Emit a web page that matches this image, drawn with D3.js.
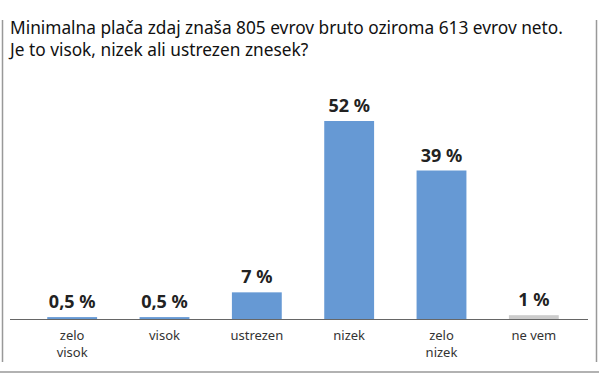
<!DOCTYPE html>
<html>
<head>
<meta charset="utf-8">
<script src="https://cdn.jsdelivr.net/npm/d3@7"></script>
<style>
    body { margin: 0; background: #fff; }
    text { font-family: "Noto Sans", sans-serif; }
</style>
</head>
<body>
<svg id="chart" width="599" height="374"></svg>
<script>
const categories = ["zelo visok", "visok", "ustrezen", "nizek", "zelo nizek", "ne vem"];
const values = [0.5, 0.5, 7, 52, 39, 1];
const valueLabels = ["0,5 %", "0,5 %", "7 %", "52 %", "39 %", "1 %"];
const titleLines = [
    "Minimalna plača zdaj znaša 805 evrov bruto oziroma 613 evrov neto.",
    "Je to visok, nizek ali ustrezen znesek?"
];

const svg = d3.select("#chart");
const baseY = 319;

// frame
svg.append("line").attr("x1", 2.5).attr("x2", 2.5).attr("y1", 20).attr("y2", 362)
    .attr("stroke", "#999").attr("stroke-width", 1.5);
svg.append("line").attr("x1", 596.5).attr("x2", 596.5).attr("y1", 20).attr("y2", 362)
    .attr("stroke", "#999").attr("stroke-width", 1.5);
svg.append("line").attr("x1", 0).attr("x2", 599).attr("y1", 372).attr("y2", 372)
    .attr("stroke", "#999").attr("stroke-width", 1.5);

svg.selectAll("text.title")
    .data(titleLines)
    .enter()
    .append("text")
    .attr("class", "title")
    .attr("x", 10)
    .attr("y", (d, i) => 34 + i * 22)
    .attr("font-size", 17.3)
    .attr("fill", "#111")
    .text((d) => d);

const x = d3.scaleBand().domain(categories).range([26, 580]).paddingInner(0.46).paddingOuter(0.23);
const y = d3.scaleLinear().domain([0, 52]).range([baseY, 121]);

svg.selectAll("rect.bar")
    .data(categories)
    .enter()
    .append("rect")
    .attr("class", "bar")
    .attr("x", (d) => x(d))
    .attr("width", x.bandwidth())
    .attr("y", (d, i) => y(values[i]))
    .attr("height", (d, i) => baseY - y(values[i]))
    .attr("fill", (d) => d === "ne vem" ? "#cccccc" : "#6699d4");

svg.append("line").attr("x1", 10).attr("x2", 588).attr("y1", baseY + 0.5).attr("y2", baseY + 0.5)
    .attr("stroke", "#666").attr("stroke-width", 1);

svg.selectAll("text.val")
    .data(categories)
    .enter()
    .append("text")
    .attr("class", "val")
    .attr("x", (d) => x(d) + x.bandwidth() / 2)
    .attr("y", (d, i) => y(values[i]) - 9)
    .attr("text-anchor", "middle")
    .attr("font-size", 18)
    .attr("font-weight", "bold")
    .attr("fill", "#222")
    .text((d, i) => valueLabels[i]);

// category labels, "zelo ..." wrapped onto two lines
const catLines = [];
categories.forEach((d) => {
    const words = d.startsWith("zelo") ? d.split(" ") : [d];
    words.forEach((w, i) => catLines.push({cat: d, text: w, line: i}));
});

svg.selectAll("text.cat")
    .data(catLines)
    .enter()
    .append("text")
    .attr("class", "cat")
    .attr("x", (d) => x(d.cat) + x.bandwidth() / 2)
    .attr("y", (d) => 340 + d.line * 17)
    .attr("text-anchor", "middle")
    .attr("font-size", 13)
    .attr("fill", "#333")
    .text((d) => d.text);
</script>
</body>
</html>
